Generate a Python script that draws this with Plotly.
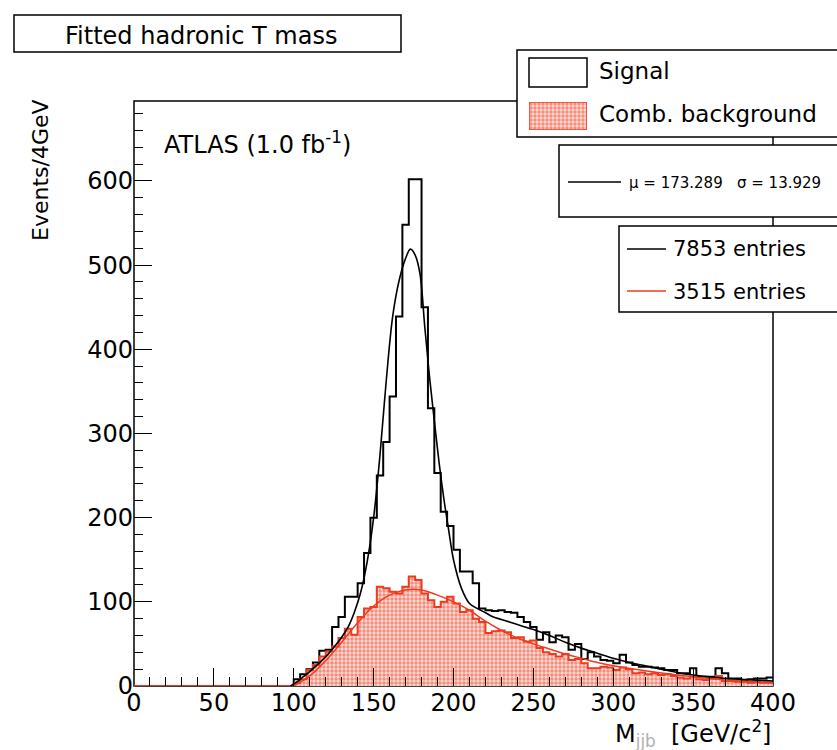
import plotly.graph_objects as go

# ---------------- data ----------------
bin_width = 4
x_lo, x_hi = 0, 400
y_hi = 695

signal_counts = [
    0, 0, 0, 0, 0, 0, 0, 0, 0, 0,
    0, 0, 0, 0, 0, 0, 0, 0, 0, 0,
    0, 0, 0, 0, 0, 8, 14, 20, 28, 42,
    43, 70, 82, 106, 106, 122, 158, 200, 250, 290,
    344, 439, 548, 602, 602, 450, 330, 253, 207, 190,
    162, 136, 136, 122, 92, 90, 89, 90, 88, 87,
    82, 76, 70, 55, 64, 52, 60, 58, 43, 50,
    32, 40, 35, 31, 30, 27, 37, 28, 25, 23,
    23, 22, 21, 19, 19, 15, 15, 21, 11, 11,
    11, 21, 15, 9, 9, 7, 8, 9, 9, 10,
]

background_counts = [
    0, 0, 0, 0, 0, 0, 0, 0, 0, 0,
    0, 0, 0, 0, 0, 0, 0, 0, 0, 0,
    0, 0, 0, 0, 0, 4, 8, 19, 25, 35,
    41, 47, 57, 68, 61, 82, 92, 94, 118, 116,
    112, 110, 118, 130, 126, 110, 102, 94, 100, 106,
    98, 88, 90, 80, 76, 63, 65, 66, 64, 57,
    58, 53, 54, 45, 40, 38, 35, 38, 31, 32,
    27, 21, 21, 23, 22, 19, 22, 20, 15, 16,
    14, 15, 13, 14, 12, 10, 9, 11, 8, 7,
    9, 12, 6, 6, 5, 5, 4, 5, 4, 4,
]

signal_fit_x = [98, 102, 106, 110, 114, 118, 122, 126, 130, 134, 138, 142, 146, 150,
                154, 158, 162, 166, 170, 173, 176, 179, 182, 185, 188, 191, 194, 197,
                200, 205, 210, 215, 220, 225, 230, 240, 250, 260, 270, 280, 290, 300,
                310, 320, 330, 340, 350, 360, 370, 380, 390, 400]
signal_fit_y = [0, 5, 11, 17, 24, 31, 39, 48, 58, 70, 88, 112, 148, 200,
                275, 365, 440, 482, 508, 519, 512, 490, 427, 367, 315, 265, 222, 185,
                150, 116, 98, 92, 87, 82, 79, 73, 67, 60, 52, 45, 39, 33,
                28, 24, 20, 16, 13, 11, 9, 8, 7, 6]

background_fit_x = [100, 110, 120, 130, 140, 150, 160, 170, 175, 180, 190, 200, 210,
                    220, 230, 240, 250, 260, 270, 280, 290, 300, 320, 340, 360, 380, 400]
background_fit_y = [0, 12, 30, 52, 75, 95, 108, 114, 115, 114, 108, 100, 90,
                    77, 66, 57, 50, 44, 38, 33, 28, 24, 18, 13, 9, 6, 4]

x_tick_step = 50
y_tick_step = 100

title_text = "Fitted hadronic T mass"
legend_labels = ["Signal", "Comb. background"]
fit_label = "\u03bc = 173.289\u00a0\u00a0 \u03c3 = 13.929"
entries_labels = ["7853 entries", "3515 entries"]
atlas_label = "ATLAS (1.0 fb<sup>-1</sup>)"
x_title = "M<sub><span style='color:#b0b0b0'>jjb</span></sub>  [GeV/c<sup>2</sup>]"
y_title = "Events/4GeV"

# ---------------- styling ----------------
W, H = 837, 750
L, R, T, B = 134, 773, 101, 686
RED = "#ee3a1f"
FONT = "DejaVu Sans"
PATTERN = dict(shape=".", fgcolor=RED, bgcolor="#fcdcd6", size=4, solidity=0.55)


def px(xp):
    return (xp - L) / (R - L)


def py(yp):
    return (B - yp) / (B - T)


edges = [x_lo + i * bin_width for i in range(len(signal_counts) + 1)]

fig = go.Figure()

fig.add_trace(go.Scatter(
    x=edges, y=signal_counts + [signal_counts[-1]], mode="lines",
    line=dict(shape="hv", color="black", width=2), showlegend=False,
))
fig.add_trace(go.Scatter(
    x=edges, y=background_counts + [background_counts[-1]], mode="lines",
    line=dict(shape="hv", color=RED, width=2), fill="tozeroy",
    fillcolor="rgba(0,0,0,0)", fillpattern=PATTERN, showlegend=False,
))
fig.add_trace(go.Scatter(
    x=background_fit_x, y=background_fit_y, mode="lines",
    line=dict(shape="spline", color=RED, width=1.5), showlegend=False,
))
fig.add_trace(go.Scatter(
    x=signal_fit_x, y=signal_fit_y, mode="lines",
    line=dict(shape="spline", color="black", width=1.6), showlegend=False,
))

# legend pattern swatch on an overlay axis
fig.add_trace(go.Scatter(
    x=[0, 1, 1, 0, 0], y=[0, 0, 1, 1, 0], mode="lines", fill="toself",
    fillcolor="rgba(0,0,0,0)", fillpattern=PATTERN,
    line=dict(color=RED, width=1.5), xaxis="x2", yaxis="y2", showlegend=False,
))

axis_font = dict(family=FONT, size=24, color="black")
fig.update_layout(
    width=W, height=H, autosize=False,
    margin=dict(l=L, r=W - R, t=T, b=H - B),
    paper_bgcolor="white", plot_bgcolor="white",
    xaxis=dict(range=[x_lo, x_hi], dtick=x_tick_step, tick0=0, ticks="inside",
               ticklen=18, tickwidth=1, tickcolor="black", showline=False,
               showgrid=False, zeroline=False, tickfont=axis_font,
               minor=dict(dtick=10, ticks="inside", ticklen=9, tickcolor="black",
                          tickwidth=1, showgrid=False)),
    yaxis=dict(range=[0, y_hi], dtick=y_tick_step, tick0=0, ticks="inside",
               ticklen=18, tickwidth=1, tickcolor="black", showline=False,
               showgrid=False, zeroline=False, tickfont=axis_font,
               minor=dict(dtick=20, ticks="inside", ticklen=9, tickcolor="black",
                          tickwidth=1, showgrid=False)),
    xaxis2=dict(domain=[px(529), px(587)], range=[0, 1], visible=False, anchor="y2"),
    yaxis2=dict(domain=[py(130), py(102)], range=[0, 1], visible=False, anchor="x2"),
)

shapes = []
# frame
shapes.append(dict(type="rect", xref="paper", yref="paper", x0=0, x1=1, y0=0, y1=1,
                   line=dict(color="black", width=1.5), layer="below"))
# title box
shapes.append(dict(type="rect", xref="paper", yref="paper", x0=px(14), x1=px(401),
                   y0=py(52), y1=py(15), line=dict(color="black", width=1.5),
                   fillcolor="white", layer="below"))
# legend boxes
for (x0, y0, y1) in [(517, 50, 137), (559, 145, 217), (619, 226, 312)]:
    shapes.append(dict(type="rect", xref="paper", yref="paper", x0=px(x0), x1=px(845),
                       y0=py(y1), y1=py(y0), line=dict(color="black", width=1.5),
                       fillcolor="white", layer="below"))
# signal swatch
shapes.append(dict(type="rect", xref="paper", yref="paper", x0=px(529), x1=px(587),
                   y0=py(87), y1=py(58), line=dict(color="black", width=1.5),
                   fillcolor="white", layer="above"))
# line swatches
shapes.append(dict(type="line", xref="paper", yref="paper", x0=px(568), x1=px(621),
                   y0=py(182), y1=py(182), line=dict(color="black", width=1.5)))
shapes.append(dict(type="line", xref="paper", yref="paper", x0=px(627), x1=px(666),
                   y0=py(249), y1=py(249), line=dict(color="black", width=1.5)))
shapes.append(dict(type="line", xref="paper", yref="paper", x0=px(627), x1=px(666),
                   y0=py(291), y1=py(291), line=dict(color=RED, width=1.5)))
fig.update_layout(shapes=shapes)

ann = []


def text(t, xp, yp, size, xanchor="left", yanchor="middle", angle=0):
    ann.append(dict(text=t, x=px(xp), y=py(yp), xref="paper", yref="paper",
                    xanchor=xanchor, yanchor=yanchor, showarrow=False, textangle=angle,
                    font=dict(family=FONT, size=size, color="black")))


text(title_text, 201, 36, 24, xanchor="center")
text(legend_labels[0], 597, 71, 23)
text(legend_labels[1], 597, 114, 23)
text(fit_label, 627, 183, 15)
text(entries_labels[0], 671, 249, 21)
text(entries_labels[1], 671, 292, 21)
text(atlas_label, 162, 143, 24)
text(x_title, 773, 733, 24, xanchor="right")
text(y_title, 40, 97, 22, xanchor="center", yanchor="top", angle=-90)
fig.update_layout(annotations=ann)

fig.write_html("out.html")
